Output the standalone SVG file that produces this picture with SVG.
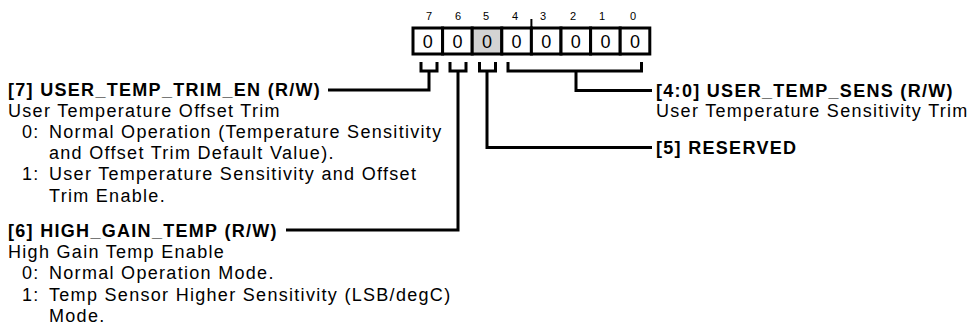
<svg xmlns="http://www.w3.org/2000/svg" width="971" height="326" viewBox="0 0 971 326">
<style>
text{font-family:"Liberation Sans",Arial,sans-serif;fill:#000}
.b{font-weight:bold;font-size:18px;letter-spacing:1.3px}
.r{font-size:18px;letter-spacing:1.3px}
.bit{font-size:11px;text-anchor:middle}
.val{font-size:18px;text-anchor:middle}
.cell{fill:#fff;stroke:#000;stroke-width:3}
.ln{fill:none;stroke:#000;stroke-width:3;stroke-linejoin:miter;stroke-linecap:butt}
</style>
<rect width="971" height="326" fill="#fff"/>
<g id="register">
<rect class="cell" x="413" y="28" width="29.6" height="26"/>
<rect class="cell" x="442.6" y="28" width="29.6" height="26"/>
<rect class="cell" x="472.2" y="28" width="29.6" height="26" style="fill:#d3d3d3"/>
<rect class="cell" x="501.8" y="28" width="29.6" height="26"/>
<rect class="cell" x="531.4" y="28" width="29.6" height="26"/>
<rect class="cell" x="561" y="28" width="29.6" height="26"/>
<rect class="cell" x="590.6" y="28" width="29.6" height="26"/>
<rect class="cell" x="620.2" y="28" width="29.6" height="26"/>
<line x1="531.4" y1="19" x2="531.4" y2="28" stroke="#000" stroke-width="2"/>
<text class="bit" x="429" y="20">7</text>
<text class="bit" x="458" y="20">6</text>
<text class="bit" x="486" y="20">5</text>
<text class="bit" x="515" y="20">4</text>
<text class="bit" x="543" y="20">3</text>
<text class="bit" x="573" y="20">2</text>
<text class="bit" x="602" y="20">1</text>
<text class="bit" x="633" y="20">0</text>
<text class="val" x="427.8" y="48">0</text>
<text class="val" x="457.4" y="48">0</text>
<text class="val" x="487" y="48">0</text>
<text class="val" x="516.6" y="48">0</text>
<text class="val" x="546.2" y="48">0</text>
<text class="val" x="575.8" y="48">0</text>
<text class="val" x="605.4" y="48">0</text>
<text class="val" x="635" y="48">0</text>
</g>
<g id="connectors">
<path class="ln" d="M421,62 V71 H437 V62 M429,71 V90 H328"/>
<path class="ln" d="M450,62 V71 H466 V62 M458,71 V230 H286"/>
<path class="ln" d="M479.5,62 V71 H495.5 V62 M487,71 V147.5 H652"/>
<path class="ln" d="M508,62 V71 H641.5 V62 M576,71 V90.5 H652"/>
</g>
<g id="field7">
<text class="b" x="8" y="96">[7] USER_TEMP_TRIM_EN (R/W)</text>
<text class="r" x="8" y="117">User Temperature Offset Trim</text>
<text class="r" x="22" y="138">0:</text>
<text class="r" x="49" y="138">Normal Operation (Temperature Sensitivity</text>
<text class="r" x="49" y="159">and Offset Trim Default Value).</text>
<text class="r" x="22" y="180">1:</text>
<text class="r" x="49" y="180">User Temperature Sensitivity and Offset</text>
<text class="r" x="49" y="201.5">Trim Enable.</text>
</g>
<g id="field6">
<text class="b" x="8" y="236.5">[6] HIGH_GAIN_TEMP (R/W)</text>
<text class="r" x="8" y="258">High Gain Temp Enable</text>
<text class="r" x="22" y="279">0:</text>
<text class="r" x="49" y="279">Normal Operation Mode.</text>
<text class="r" x="22" y="300.5">1:</text>
<text class="r" x="49" y="300.5">Temp Sensor Higher Sensitivity (LSB/degC)</text>
<text class="r" x="49" y="321.5">Mode.</text>
</g>
<g id="field40">
<text class="b" x="656" y="97">[4:0] USER_TEMP_SENS (R/W)</text>
<text class="r" x="656" y="117">User Temperature Sensitivity Trim</text>
</g>
<g id="field5">
<text class="b" x="656" y="154">[5] RESERVED</text>
</g>
</svg>
